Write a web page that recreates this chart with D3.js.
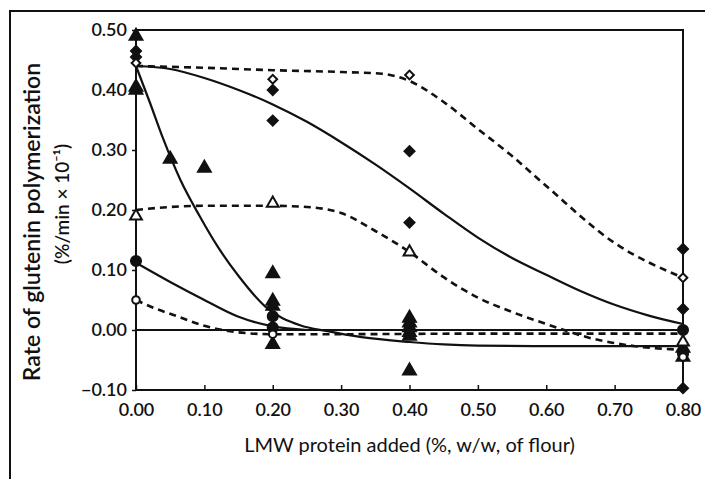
<!DOCTYPE html>
<html>
<head>
<meta charset="utf-8">
<script src="https://cdn.jsdelivr.net/npm/d3@7"></script>
<style>
  body { margin: 0; background: #fff; }
  svg { display: block; }
  text { font-family: Lato, "Open Sans", sans-serif; fill: #111; }
</style>
</head>
<body>
<svg id="chart" width="705" height="479"></svg>
<script>
// tick labels
const xTicks = [0, 0.1, 0.2, 0.3, 0.4, 0.5, 0.6, 0.7, 0.8];
const yTicks = [-0.1, 0, 0.1, 0.2, 0.3, 0.4, 0.5];

// fitted curves
const curveOpenDiamond = [[0, 0.44], [0.1, 0.437], [0.2, 0.433], [0.3, 0.43], [0.36, 0.427], [0.4, 0.415], [0.45, 0.38], [0.5, 0.335], [0.55, 0.29], [0.6, 0.24], [0.7, 0.145], [0.8, 0.087]];
const curveFilledDiamond = [[0, 0.44], [0.05, 0.435], [0.1, 0.42], [0.15, 0.4], [0.2, 0.376], [0.25, 0.347], [0.3, 0.313], [0.35, 0.276], [0.4, 0.236], [0.45, 0.194], [0.5, 0.154], [0.55, 0.12], [0.6, 0.092], [0.65, 0.065], [0.7, 0.042], [0.75, 0.024], [0.8, 0.01]];
const curveFilledTriangle = [[0, 0.44], [0.02, 0.38], [0.04, 0.318], [0.065, 0.25], [0.093, 0.19], [0.12, 0.138], [0.15, 0.09], [0.19, 0.038], [0.24, 0.008], [0.28, -0.002], [0.33, -0.012], [0.4, -0.02], [0.45, -0.024], [0.5, -0.026], [0.6, -0.027], [0.7, -0.027], [0.8, -0.027]];
const curveOpenTriangle = [[0, 0.2], [0.05, 0.205], [0.1, 0.207], [0.2, 0.207], [0.25, 0.205], [0.3, 0.195], [0.35, 0.165], [0.4, 0.13], [0.45, 0.088], [0.5, 0.054], [0.55, 0.03], [0.6, 0.01], [0.67, -0.015], [0.73, -0.027], [0.8, -0.033]];
const curveFilledCircle = [[0, 0.112], [0.05, 0.08], [0.1, 0.05], [0.15, 0.022], [0.2, 0.006], [0.25, 0.0]];
const curveOpenCircle = [[0, 0.05], [0.03, 0.035], [0.055, 0.025], [0.1, 0.007], [0.15, -0.004], [0.2, -0.007], [0.3, -0.007], [0.5, -0.006], [0.8, -0.006]];
const zeroLine = [[0, 0], [0.8, 0]];

// observed points
const filledTriangles = [[0, 0.49], [0, 0.405], [0, 0.4], [0.05, 0.285], [0.1, 0.27], [0.2, 0.094], [0.2, 0.048], [0.2, 0.04], [0.2, -0.024], [0.4, 0.02], [0.4, 0.012], [0.4, 0.004], [0.4, -0.004], [0.4, -0.01], [0.4, -0.068], [0.8, -0.03], [0.8, -0.045]];
const filledDiamonds = [[0, 0.465], [0, 0.455], [0.2, 0.4], [0.2, 0.349], [0.4, 0.298], [0.4, 0.179], [0.8, 0.135], [0.8, 0.035], [0.8, -0.038], [0.8, -0.097]];
const openDiamonds = [[0, 0.445], [0.2, 0.418], [0.4, 0.425], [0.8, 0.087]];
const openTriangles = [[0, 0.19], [0.2, 0.211], [0.4, 0.13], [0.8, -0.02]];
const filledCircles = [[0, 0.115], [0.2, 0.023], [0.2, 0.004], [0.4, 0.0], [0.8, 0.0], [0.8, -0.04]];
const openCircles = [[0, 0.05], [0.2, -0.007], [0.8, -0.045]];

const svg = d3.select('#chart');
const margin = { top: 30, left: 136, right: 22, bottom: 89 };
const W = 705, H = 479;

// outer figure frame
svg.append('path')
  .attr('d', `M10,${H} L10,11 L${W},11`)
  .attr('fill', 'none')
  .attr('stroke', '#111')
  .attr('stroke-width', 2);

const x = d3.scaleLinear().domain([0, 0.8]).range([margin.left, W - margin.right]);
const y = d3.scaleLinear().domain([-0.1, 0.5]).range([H - margin.bottom, margin.top]);

// plot box
svg.append('rect')
  .attr('x', x(0)).attr('y', y(0.5))
  .attr('width', x(0.8) - x(0)).attr('height', y(-0.1) - y(0.5))
  .attr('fill', 'none')
  .attr('stroke', '#111')
  .attr('stroke-width', 2);

const fmt = d => d < 0 ? '\u2212' + Math.abs(d).toFixed(2) : d.toFixed(2);

svg.append('g')
  .attr('transform', `translate(0,${y(-0.1)})`)
  .call(d3.axisBottom(x).tickValues(xTicks).tickSizeInner(-5).tickSizeOuter(0).tickPadding(13).tickFormat(fmt))
  .call(g => g.select('.domain').remove())
  .call(g => g.selectAll('line').attr('stroke', '#111').attr('stroke-width', 1.5))
  .call(g => g.selectAll('text').attr('font-size', 18).attr('font-weight', 600).style('font-family', 'Lato, sans-serif'));

svg.append('g')
  .attr('transform', `translate(${x(0)},0)`)
  .call(d3.axisLeft(y).tickValues(yTicks).tickSizeInner(4).tickSizeOuter(0).tickPadding(5).tickFormat(fmt))
  .call(g => g.select('.domain').remove())
  .call(g => g.selectAll('line').attr('stroke', '#111').attr('stroke-width', 1.5))
  .call(g => g.selectAll('text').attr('font-size', 18).attr('font-weight', 600).style('font-family', 'Lato, sans-serif'));

// axis titles
svg.append('text')
  .attr('x', (x(0) + x(0.8)) / 2).attr('y', 452)
  .attr('text-anchor', 'middle')
  .attr('font-size', 20)
  .text('LMW protein added (%, w/w, of flour)');

svg.append('text')
  .attr('transform', `translate(40,${(y(0.5) + y(-0.1)) / 2 + 12}) rotate(-90)`)
  .attr('text-anchor', 'middle')
  .attr('font-size', 23)
  .attr('font-weight', 600)
  .text('Rate of glutenin polymerization');

svg.append('text')
  .attr('transform', `translate(69,${(y(0.5) + y(-0.1)) / 2 - 6}) rotate(-90)`)
  .attr('text-anchor', 'middle')
  .attr('font-size', 19)
  .attr('font-weight', 600)
  .text('(%/min \u00d7 10\u207b\u00b9)');

// curves
const line = d3.line().curve(d3.curveMonotoneX).x(d => x(d[0])).y(d => y(d[1]));
const curves = [
  { data: zeroLine, dash: null },
  { data: curveFilledDiamond, dash: null },
  { data: curveFilledTriangle, dash: null },
  { data: curveFilledCircle, dash: null },
  { data: curveOpenDiamond, dash: '7,5' },
  { data: curveOpenTriangle, dash: '7,5' },
  { data: curveOpenCircle, dash: '7,5' },
];
svg.append('g').selectAll('path')
  .data(curves)
  .join('path')
  .attr('d', d => line(d.data))
  .attr('fill', 'none')
  .attr('stroke', '#111')
  .attr('stroke-width', d => d.dash ? 2.6 : 2.2)
  .attr('stroke-dasharray', d => d.dash);

// markers
const sym = (type, size) => d3.symbol().type(type).size(size)();
const markerSets = [
  { data: filledTriangles, type: d3.symbolTriangle, size: 70, fill: '#111', rot: 0 },
  { data: filledDiamonds, type: d3.symbolSquare, size: 50, fill: '#111', rot: 45 },
  { data: openDiamonds, type: d3.symbolSquare, size: 38, fill: '#fff', rot: 45 },
  { data: openTriangles, type: d3.symbolTriangle, size: 60, fill: '#fff', rot: 0 },
  { data: filledCircles, type: d3.symbolCircle, size: 80, fill: '#111', rot: 0 },
  { data: openCircles, type: d3.symbolCircle, size: 45, fill: '#fff', rot: 0 },
];
markerSets.forEach(m => {
  svg.append('g').selectAll('path')
    .data(m.data)
    .join('path')
    .attr('transform', d => `translate(${x(d[0])},${y(d[1])}) rotate(${m.rot})`)
    .attr('d', sym(m.type, m.size))
    .attr('fill', m.fill)
    .attr('stroke', '#111')
    .attr('stroke-width', 2);
});
</script>
</body>
</html>
